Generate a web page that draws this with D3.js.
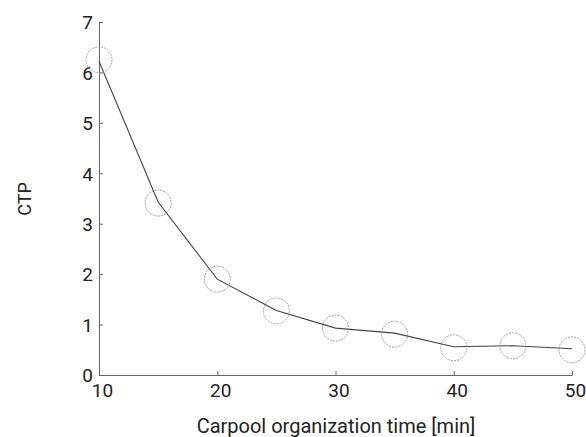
<!DOCTYPE html>
<html>
<head>
<meta charset="utf-8">
<script src="https://cdn.jsdelivr.net/npm/d3@7"></script>
<style>
  body { margin: 0; background: #fff; }
  svg text { font-family: Roboto, sans-serif; fill: #222; }
</style>
</head>
<body>
<div class="chart"></div>
<script>
// organization time in minutes
var times = [10, 15, 20, 25, 30, 35, 40, 45, 50];
// measured CTP (circle markers)
var ctpMarkers = [6.25, 3.41, 1.90, 1.27, 0.93, 0.81, 0.54, 0.58, 0.50];
// CTP curve
var ctpLine = [6.22, 3.43, 1.90, 1.28, 0.93, 0.83, 0.56, 0.58, 0.52];
var xTicks = [10, 20, 30, 40, 50];
var yTicks = [0, 1, 2, 3, 4, 5, 6, 7];

var width = 586, height = 437;
var margin = {top: 22, right: 14, bottom: 62, left: 99};

var svg = d3.select(".chart").append("svg")
  .attr("width", width)
  .attr("height", height);

var x = d3.scaleLinear().domain([10, 50]).range([margin.left, width - margin.right]);
var y = d3.scaleLinear().domain([0, 7]).range([height - margin.bottom, margin.top]);

// axes, ticks pointing inward
var xAxis = svg.append("g")
  .attr("transform", "translate(0," + y(0) + ")")
  .call(d3.axisBottom(x).tickValues(xTicks).tickFormat(d3.format("d"))
    .tickSizeInner(-4).tickSizeOuter(0).tickPadding(9));
var yAxis = svg.append("g")
  .attr("transform", "translate(" + x(10) + ",0)")
  .call(d3.axisLeft(y).tickValues(yTicks).tickFormat(d3.format("d"))
    .tickSizeInner(-4).tickSizeOuter(0).tickPadding(6));

[xAxis, yAxis].forEach(function(a) {
  a.select(".domain").attr("stroke", "#666");
  a.selectAll(".tick line").attr("stroke", "#666");
  a.selectAll(".tick text").style("font-size", "19px").attr("fill", "#222");
});
yAxis.selectAll(".tick text").attr("dy", "0.36em");
xAxis.selectAll(".tick text").attr("dx", "3");

// curve
var line = d3.line()
  .x(function(d, i) { return x(times[i]); })
  .y(function(d) { return y(d); });

svg.append("path")
  .datum(ctpLine)
  .attr("d", line)
  .attr("fill", "none")
  .attr("stroke", "#444")
  .attr("stroke-width", 1.1);

// markers
svg.selectAll("circle.m")
  .data(ctpMarkers)
  .enter()
  .append("circle")
  .attr("class", "m")
  .attr("cx", function(d, i) { return x(times[i]); })
  .attr("cy", function(d) { return y(d); })
  .attr("r", 13)
  .attr("fill", "none")
  .attr("stroke", "#888")
  .attr("stroke-width", 0.8)
  .attr("stroke-dasharray", "2,1");

// labels
svg.append("text")
  .attr("x", 336)
  .attr("y", 433)
  .attr("text-anchor", "middle")
  .style("font-size", "20px")
  .text("Carpool organization time [min]");

svg.append("text")
  .attr("transform", "translate(31,199) rotate(-90)")
  .attr("text-anchor", "middle")
  .style("font-size", "18px")
  .text("CTP");
</script>
</body>
</html>
